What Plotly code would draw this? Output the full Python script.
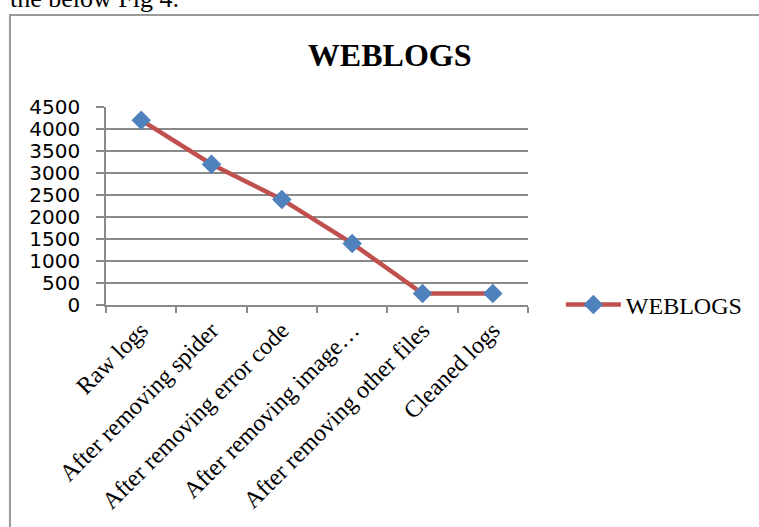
import plotly.graph_objects as go

# Web log record counts after each cleaning step
stages = [
    "Raw logs",
    "After removing spider",
    "After removing error code",
    "After removing image…",
    "After removing other files",
    "Cleaned logs",
]
records = [4200, 3200, 2400, 1400, 260, 260]
y_ticks = [0, 500, 1000, 1500, 2000, 2500, 3000, 3500, 4000, 4500]
series_name = "WEBLOGS"

W, H = 759, 527
L, R, T, B = 106, 530, 107, 305  # plot area in pixels


def px_x(px):
    return (px - L) / (R - L)


def px_y(py):
    return (B - py) / (B - T)


grid = "#8a8a8a"

fig = go.Figure()
fig.add_trace(go.Scatter(
    x=stages,
    y=records,
    mode="lines+markers",
    name=series_name,
    line=dict(color="#C0504D", width=4.5),
    marker=dict(symbol="diamond", size=15, color="#4F81BD",
                line=dict(width=0)),
))

fig.update_layout(
    width=W,
    height=H,
    margin=dict(l=L, r=W - R, t=T, b=H - B, pad=0),
    paper_bgcolor="white",
    plot_bgcolor="white",
    title=dict(
        text="<b>WEBLOGS</b>",
        font=dict(family="Liberation Serif", size=32, color="black"),
        x=px_x(391), xref="paper", xanchor="center",
        y=1 - 55 / H, yref="container", yanchor="middle",
    ),
    showlegend=True,
    legend=dict(
        x=px_x(563), y=px_y(305), xanchor="left", yanchor="middle",
        font=dict(family="Liberation Serif", size=24, color="black"),
        itemwidth=55,
        bgcolor="rgba(0,0,0,0)",
    ),
    xaxis=dict(
        type="category",
        tickangle=-45,
        tickson="boundaries",
        ticks="outside",
        ticklen=6,
        tickcolor=grid,
        tickwidth=1.5,
        showline=True,
        linecolor=grid,
        linewidth=1.5,
        showgrid=False,
        tickfont=dict(family="Liberation Serif", size=24, color="black"),
        range=[-0.5, len(stages) - 0.5],
    ),
    yaxis=dict(
        range=[0, 4500],
        tickvals=y_ticks,
        ticktext=[str(v) for v in y_ticks],
        ticks="outside",
        ticklen=8,
        tickcolor=grid,
        tickwidth=1.5,
        showline=True,
        linecolor=grid,
        linewidth=1.5,
        showgrid=True,
        gridcolor=grid,
        gridwidth=1.5,
        zeroline=False,
        ticklabelstandoff=12,
        tickfont=dict(family="DejaVu Sans", size=20, color="black"),
    ),
    shapes=[
        # chart frame
        dict(type="rect", xref="paper", yref="paper",
             x0=px_x(9.5), x1=px_x(775), y0=px_y(540), y1=px_y(15),
             line=dict(color="#9a9a9a", width=2), fillcolor="rgba(0,0,0,0)",
             layer="below"),
    ],
    annotations=[
        dict(text="the below Fig 4.", xref="paper", yref="paper",
             x=px_x(8), y=px_y(15), xanchor="left", yanchor="bottom",
             showarrow=False,
             font=dict(family="Liberation Serif", size=26, color="black")),
    ],
)

fig.write_html("out.html")
